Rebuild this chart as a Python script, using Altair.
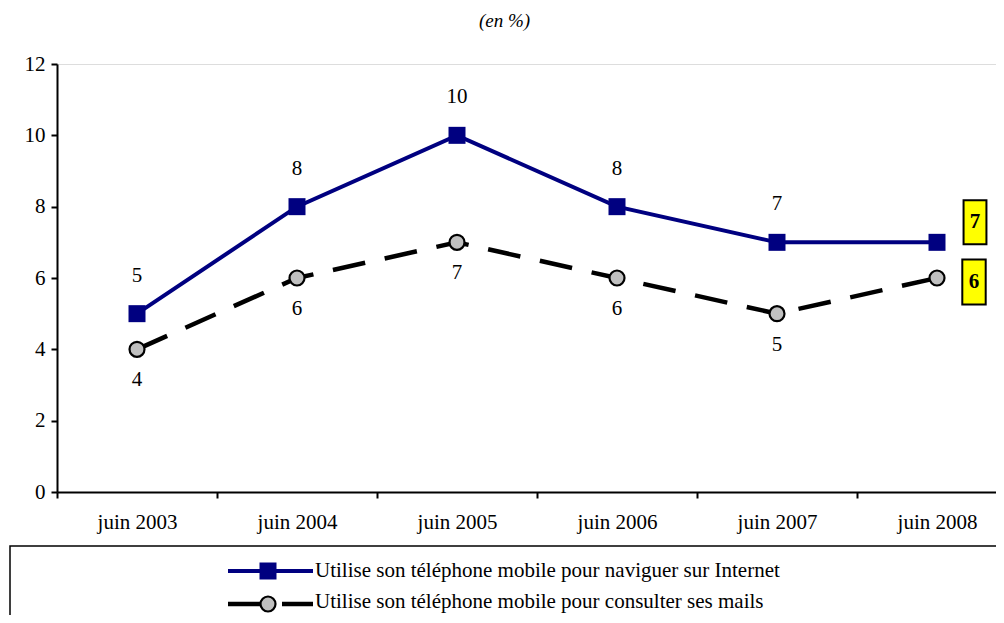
import altair as alt
import pandas as pd

years = ["juin 2003", "juin 2004", "juin 2005", "juin 2006", "juin 2007", "juin 2008"]
internet = [5, 8, 10, 8, 7, 7]
mails = [4, 6, 7, 6, 5, 6]
series_names = [
    "Utilise son téléphone mobile pour naviguer sur Internet",
    "Utilise son téléphone mobile pour consulter ses mails",
]
title_text = "(en %)"

rows = []
for i, (yr, a, b) in enumerate(zip(years, internet, mails)):
    rows.append({"idx": i, "year": yr, "value": a, "series": "internet"})
    rows.append({"idx": i, "year": yr, "value": b, "series": "mails"})
df = pd.DataFrame(rows)

FONT = "Liberation Serif"
FS = 21
NAVY = "#000080"
W, H = 939, 428
xmax = -0.5 + W / 160.0

x_values = [v / 2 for v in range(-1, 11)]
arr = "[" + ",".join("'" + y + "'" for y in years) + "]"
label_expr = "datum.value % 1 === 0 ? " + arr + "[datum.value] : ''"

xenc = alt.X(
    "idx:Q",
    scale=alt.Scale(domain=[-0.5, xmax], nice=False, zero=False),
    axis=alt.Axis(
        values=x_values,
        labelExpr=label_expr,
        title=None,
        grid=False,
        tickSize=6,
        tickWidth=2,
        tickColor="black",
        tickOpacity={"condition": {"test": "datum.value % 1 !== 0", "value": 1}, "value": 0},
        domainColor="black",
        domainWidth=2,
        labelFont=FONT,
        labelFontSize=FS,
        labelColor="black",
        labelPadding=13,
        labelAngle=0,
        labelOverlap=False,
        labelBound=False,
    ),
)
yenc = alt.Y(
    "value:Q",
    scale=alt.Scale(domain=[0, 12], nice=False, zero=True),
    axis=alt.Axis(
        values=[0, 2, 4, 6, 8, 10, 12],
        title=None,
        grid=False,
        tickSize=6,
        tickWidth=2,
        tickColor="black",
        domainColor="black",
        domainWidth=2,
        labelFont=FONT,
        labelFontSize=FS,
        labelColor="black",
        labelPadding=6,
    ),
)

base = alt.Chart(df).encode(x=xenc, y=yenc)
net = base.transform_filter("datum.series === 'internet'")
mai = base.transform_filter("datum.series === 'mails'")

line_net = net.mark_line(color=NAVY, strokeWidth=4)
pts_net = net.mark_point(shape="square", filled=True, color=NAVY, size=289, opacity=1)
line_mail = mai.mark_line(color="black", strokeWidth=4.5, strokeDash=[33, 20])
pts_mail = mai.mark_point(shape="circle", filled=True, fill="#C0C0C0", stroke="black",
                          strokeWidth=2.2, size=225, opacity=1)

lab_net = net.transform_filter("datum.idx < 5").mark_text(
    font=FONT, fontSize=FS, color="black", dy=-38, baseline="middle"
).encode(text="value:Q")
lab_mail = mai.transform_filter("datum.idx < 5").mark_text(
    font=FONT, fontSize=FS, color="black", dy=31, baseline="middle"
).encode(text="value:Q")

boxshape = "M-0.52,-1H0.52V1H-0.52Z"
box_net = net.transform_filter("datum.idx === 5").mark_point(
    shape=boxshape, filled=True, fill="#FFFF00", stroke="black", strokeWidth=2,
    size=1936, opacity=1, xOffset=38, yOffset=-20
)
box_mail = mai.transform_filter("datum.idx === 5").mark_point(
    shape=boxshape, filled=True, fill="#FFFF00", stroke="black", strokeWidth=2,
    size=2025, opacity=1, xOffset=37, yOffset=4
)
boxlab_net = net.transform_filter("datum.idx === 5").mark_text(
    font=FONT, fontSize=FS, fontWeight="bold", color="black", dx=38, dy=-20, baseline="middle"
).encode(text="value:Q")
boxlab_mail = mai.transform_filter("datum.idx === 5").mark_text(
    font=FONT, fontSize=FS, fontWeight="bold", color="black", dx=37, dy=4, baseline="middle"
).encode(text="value:Q")

# Legend (drawn by hand below the plot)
leg_df = pd.DataFrame({"name": series_names})
one = alt.Chart(pd.DataFrame({"k": [0]}))
leg_box = one.mark_rect(fill="white", fillOpacity=0, stroke="black", strokeWidth=1.5).encode(
    x=alt.value(-47), x2=alt.value(1000), y=alt.value(482), y2=alt.value(640)
)
leg_line1 = one.mark_rule(color=NAVY, strokeWidth=4).encode(
    x=alt.value(171), x2=alt.value(256), y=alt.value(507)
)
leg_sq = one.mark_point(shape="square", filled=True, color=NAVY, size=289, opacity=1).encode(
    x=alt.value(211), y=alt.value(507)
)
leg_line2 = one.mark_rule(color="black", strokeWidth=4.5, strokeDash=[34, 20]).encode(
    x=alt.value(171), x2=alt.value(256), y=alt.value(540)
)
leg_ci = one.mark_point(shape="circle", filled=True, fill="#C0C0C0", stroke="black",
                        strokeWidth=2.2, size=225, opacity=1).encode(
    x=alt.value(211), y=alt.value(540)
)
leg_t1 = alt.Chart(leg_df).transform_filter(alt.datum.name == series_names[0]).mark_text(
    font=FONT, fontSize=FS, color="black", align="left", baseline="middle"
).encode(x=alt.value(258), y=alt.value(507), text="name:N")
leg_t2 = alt.Chart(leg_df).transform_filter(alt.datum.name == series_names[1]).mark_text(
    font=FONT, fontSize=FS, color="black", align="left", baseline="middle"
).encode(x=alt.value(258), y=alt.value(538), text="name:N")

chart = alt.layer(
    leg_box, line_mail, line_net, pts_mail, pts_net,
    lab_net, lab_mail, box_net, box_mail, boxlab_net, boxlab_mail,
    leg_line1, leg_sq, leg_line2, leg_ci, leg_t1, leg_t2,
).properties(
    width=W,
    height=H,
    autosize=alt.AutoSizeParams(type="none"),
    padding={"left": 49, "top": 56, "right": 0, "bottom": 123},
    title=alt.TitleParams(title_text, font=FONT, fontSize=19, fontStyle="italic",
                          fontWeight="normal", color="black", anchor="middle",
                          dx=-22, offset=22),
).configure_view(stroke=None).configure(background="white")

chart.save("out.html", embed_options={"renderer": "svg", "actions": False})
